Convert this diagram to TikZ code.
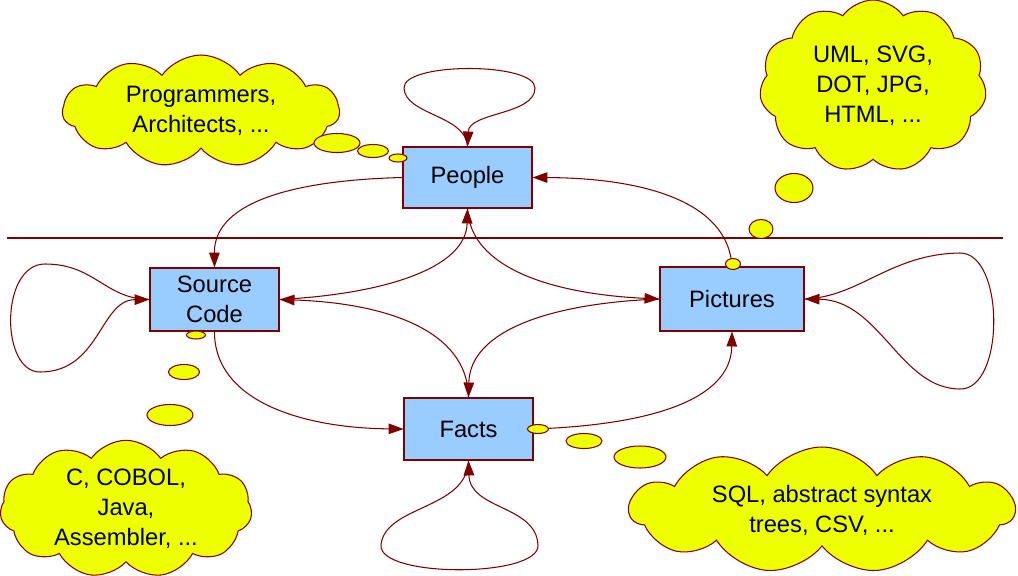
\documentclass[tikz,border=0pt]{standalone}
\usepackage{fontspec}
\setmainfont{Liberation Sans}
\usetikzlibrary{shapes.geometric,shapes.symbols,arrows.meta}
\definecolor{darkred}{RGB}{128,0,0}
\definecolor{boxblue}{RGB}{153,204,255}
\definecolor{cloudyellow}{RGB}{238,255,0}
\tikzset{
    box/.style={rectangle, draw=darkred, fill=boxblue, line width=0.6pt, align=center,
        inner sep=0pt, font=\fontsize{13.5}{17}\selectfont},
    thought/.style={cloud, cloud puffs=11, cloud puff arc=110, cloud ignores aspect,
        draw=darkred, fill=cloudyellow, line width=0.6pt, align=center, inner sep=0pt,
        font=\fontsize{13.5}{17}\selectfont},
    puff/.style={ellipse, draw=darkred, fill=cloudyellow, line width=0.6pt, inner sep=0pt},
    link/.style={draw=darkred, line width=0.6pt, -{Triangle[length=8.5pt,width=6pt]}}
}
\begin{document}
\begin{tikzpicture}[x=0.02cm,y=-0.02cm]
        \useasboundingbox (0,0) rectangle (1018,575);
        % separator
        \coordinate (sepL) at (7,238);
        \coordinate (sepR) at (1003,238);
        \draw[darkred, line width=0.6pt] (sepL) -- (sepR);
        \begin{scope}[every node/.style={box}]
            \node[minimum width=2.58cm, minimum height=1.22cm] (people) at (467.5,177.5) {People};
            \node[minimum width=2.58cm, minimum height=1.26cm] (code) at (214.5,299.5) {Source\\Code};
            \node[minimum width=2.88cm, minimum height=1.28cm] (pics) at (732,299) {Pictures};
            \node[minimum width=2.58cm, minimum height=1.24cm] (facts) at (468.5,429) {Facts};
        \end{scope}
        \begin{scope}[every node/.style={thought}]
            \node[minimum width=5.54cm, minimum height=2.24cm] (who) at (201,111) {Programmers,\\Architects, ...};
            \node[minimum width=4.54cm, minimum height=3.44cm] (formats) at (873,86) {UML, SVG,\\DOT, JPG,\\HTML, ...};
            \node[minimum width=5.04cm, minimum height=2.52cm] (langs) at (126,509) {C, COBOL,\\Java,\\Assembler, ...};
            \node[minimum width=7.7cm, minimum height=2.52cm] (data) at (822,510) {SQL, abstract syntax\\trees, CSV, ...};
        \end{scope}
        % self loops
        \draw[link] (people.north) .. controls (466,115) and (405,115) .. (404,88)
            .. controls (403,62) and (535,62) .. (535,88)
            .. controls (535,115) and (469,112) .. (people.north);
        \draw[link] (facts.south) .. controls (467,510) and (385,505) .. (381,545)
            .. controls (378,578) and (540,578) .. (538,545)
            .. controls (536,505) and (470,510) .. (facts.south);
        \draw[link] (code.west) .. controls (105,299) and (95,264) .. (45,264)
            .. controls (0,264) and (0,372) .. (40,372)
            .. controls (100,372) and (100,300) .. (code.west);
        \draw[link] (pics.east) .. controls (860,297) and (890,254) .. (960,253)
            .. controls (1005,253) and (1005,390) .. (960,389)
            .. controls (900,389) and (880,300) .. (pics.east);
        % links between boxes
        \draw[link] (people.west) .. controls (300,180) and (214,200) .. (code.north);
        \draw[link] (code.east) .. controls (385,294) and (466,268) .. (people.south);
        \draw[link] (facts.north) .. controls (468,330) and (385,303) .. (code.east);
        \draw[link] (people.south) .. controls (470,268) and (552,294) .. (pics.west);
        \draw[link] (pics.west) .. controls (552,303) and (470,330) .. (facts.north);
        \draw[link] (pics.north) .. controls (728,200) and (640,178) .. (people.east);
        \draw[link] (code.south) .. controls (214,400) and (300,428) .. (facts.west);
        \draw[link] (facts.east) .. controls (650,425) and (731,400) .. (pics.south);
        % thought bubbles
        \node[puff, minimum width=0.92cm, minimum height=0.38cm] (w1) at (337,143) {};
        \node[puff, minimum width=0.62cm, minimum height=0.26cm] (w2) at (373,151) {};
        \node[puff, minimum width=0.36cm, minimum height=0.16cm] (w3) at (398,158) {};
        \node[puff, minimum width=0.76cm, minimum height=0.58cm] (f1) at (794,188) {};
        \node[puff, minimum width=0.48cm, minimum height=0.38cm] (f2) at (761,229) {};
        \node[puff, minimum width=0.30cm, minimum height=0.22cm] (f3) at (733,264) {};
        \node[puff, minimum width=0.38cm, minimum height=0.16cm] (l1) at (196,335) {};
        \node[puff, minimum width=0.62cm, minimum height=0.30cm] (l2) at (184,372) {};
        \node[puff, minimum width=0.92cm, minimum height=0.42cm] (l3) at (170,415) {};
        \node[puff, minimum width=0.42cm, minimum height=0.18cm] (d1) at (538,429) {};
        \node[puff, minimum width=0.72cm, minimum height=0.30cm] (d2) at (584,441) {};
        \node[puff, minimum width=1.04cm, minimum height=0.44cm] (d3) at (640,457) {};
    \end{tikzpicture}
\end{document}
